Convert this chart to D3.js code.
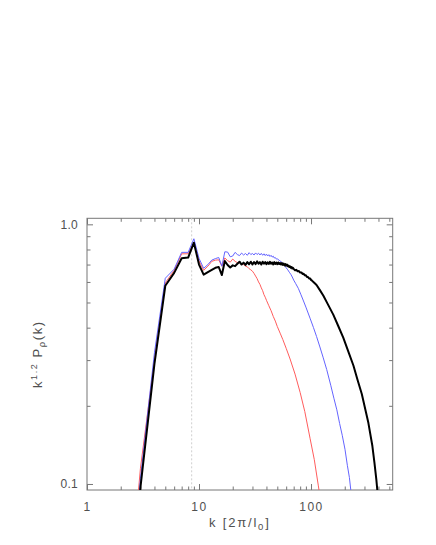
<!DOCTYPE html>
<html>
<head>
<meta charset="utf-8">
<script src="https://cdn.jsdelivr.net/npm/d3@7"></script>
<style>
  html, body { margin: 0; padding: 0; background: #fff; }
  svg { display: block; }
  text { font-family: "Liberation Sans", Arial, sans-serif; fill: #505050; }
</style>
</head>
<body>
<svg id="chart" width="436" height="545"></svg>
<script>
// ---------- data ----------
const xMajorTicks = [1, 10, 100];
const xMinorTicks = [2,3,4,5,6,7,8,9,20,30,40,50,60,70,80,90,200,300,400,500];
const yMajorTicks = [0.1, 1.0];
const yMajorLabels = ["0.1", "1.0"];
const yMinorTicks = [0.2,0.3,0.4,0.5,0.6,0.7,0.8,0.9];
const kMarker = 8.6;

// black (thick) series
const kBlack = [2,3,4,5,6,7,8,9,10,11,12,13,14,15,16,17,18,19,20,21,22,23,24,25,26,27,28,29,30,
  31,32,33,34,35,36,37,38,39,40,41,42,43,44,45,46,47,48,49,50,51,52,53,54,55,56,57,58,59,60,
  61,62,63,64,65,66,67,68,69,70,72,74,76,78,80,82,84,86,88,90,92,94,96,98,100,102,105,108,112,
  120,129,140,158,175,194,215,239,260,284,305,325,353,368,383,393,400];
const pBlack = [0.012,0.097,0.29,0.58,0.65,0.74,0.745,0.85,0.70,0.64,0.655,0.668,0.68,0.685,0.638,0.722,0.697,0.682,0.695,0.69,0.705,0.718,0.70,0.712,0.698,0.715,0.702,0.718,0.70,
  0.716,0.703,0.72,0.705,0.715,0.70,0.718,0.706,0.716,0.702,0.714,0.704,0.717,0.705,0.713,0.701,0.715,0.704,0.712,0.702,0.713,0.703,0.71,0.70,0.709,0.698,0.706,0.695,0.703,0.693,
  0.70,0.69,0.694,0.685,0.689,0.68,0.685,0.676,0.68,0.674,0.665,0.668,0.659,0.661,0.652,0.653,0.644,0.645,0.636,0.636,0.627,0.627,0.619,0.619,0.611,0.607,0.60,0.593,0.584,
  0.558,0.531,0.496,0.449,0.406,0.366,0.324,0.286,0.252,0.222,0.194,0.172,0.140,0.121,0.104,0.092,0.082];

// blue series
const kBlue = [2,3,4,5,6,7,8,9,10,11,12,13,14,15,16,17,18,19,20,21,22,23,24,25,26,27,28,29,30,
  31,32,33,34,35,36,37,38,39,40,41,42,43,44,45,46,47,48,49,50,52,54,56,58,60,62,64,66,68,70,
  73,77,81,85,90,98,105,112,120,128,138,150,160,170,180,190,201,211,220,227,235];
const pBlue = [0.013,0.105,0.32,0.62,0.672,0.78,0.78,0.88,0.74,0.677,0.70,0.728,0.738,0.745,0.69,0.784,0.782,0.75,0.755,0.78,0.765,0.758,0.775,0.762,0.772,0.76,0.778,0.765,0.772,
  0.762,0.776,0.765,0.774,0.762,0.773,0.76,0.77,0.758,0.768,0.755,0.764,0.752,0.76,0.748,0.754,0.742,0.745,0.735,0.736,0.727,0.718,0.709,0.694,0.68,0.668,0.654,0.642,0.627,0.61,
  0.591,0.567,0.538,0.511,0.48,0.435,0.401,0.37,0.337,0.308,0.276,0.24,0.214,0.193,0.171,0.154,0.136,0.118,0.106,0.094,0.083];

// red series
const kRed = [2,3,4,5,6,7,8,9,10,11,12,13,14,15,16,17,18,19,20,21,22,23,24,25,26,27,28,29,30,
  31,32,33,34,35,36,37,38,39,40,42,44,46,48,50,53,56,60,65,72,80,88,98,107,116,122];
const pRed = [0.016,0.115,0.30,0.595,0.665,0.77,0.77,0.85,0.722,0.665,0.69,0.72,0.728,0.73,0.69,0.742,0.725,0.715,0.735,0.72,0.712,0.71,0.70,0.70,0.69,0.686,0.675,0.668,0.66,
  0.647,0.632,0.618,0.60,0.587,0.569,0.555,0.536,0.524,0.51,0.486,0.465,0.442,0.424,0.404,0.381,0.36,0.333,0.303,0.265,0.225,0.19,0.15,0.124,0.099,0.086];

// ---------- layout ----------
const pLeft = 87, pRight = 392.7, pTop = 218.3, pBottom = 490;
const svg = d3.select("#chart");

const x = d3.scaleLog().domain([1, 536]).range([pLeft, pRight]);
const y = d3.scaleLog().domain([0.0948, 1.055]).range([pBottom, pTop]);

const axisColor = "#777";
const majorLen = 6, minorLen = 3.5;

function styleAxis(g, ls) {
  g.select(".domain").remove();
  g.selectAll(".tick line").attr("stroke", axisColor).attr("stroke-width", 1);
  g.selectAll(".tick text").attr("fill", "#505050")
    .style("font-family", '"Liberation Sans", Arial, sans-serif').style("font-size", "12px")
    .style("letter-spacing", (ls || 0) + "px");
}

// bottom
svg.append("g").attr("transform", `translate(0,${pBottom})`)
  .call(d3.axisBottom(x).tickValues(xMajorTicks).tickFormat(d3.format("d")).tickSize(-majorLen).tickPadding(12))
  .call(g => styleAxis(g, 1.5));
svg.append("g").attr("transform", `translate(0,${pBottom})`)
  .call(d3.axisBottom(x).tickValues(xMinorTicks).tickFormat("").tickSize(-minorLen))
  .call(styleAxis);
// top
svg.append("g").attr("transform", `translate(0,${pTop})`)
  .call(d3.axisTop(x).tickValues(xMajorTicks).tickFormat("").tickSize(-majorLen))
  .call(styleAxis);
svg.append("g").attr("transform", `translate(0,${pTop})`)
  .call(d3.axisTop(x).tickValues(xMinorTicks).tickFormat("").tickSize(-minorLen))
  .call(styleAxis);
// left
svg.append("g").attr("transform", `translate(${pLeft},0)`)
  .call(d3.axisLeft(y).tickValues(yMajorTicks).tickFormat((d, i) => yMajorLabels[i]).tickSize(-majorLen).tickPadding(9))
  .call(g => styleAxis(g, 0.3));
svg.append("g").attr("transform", `translate(${pLeft},0)`)
  .call(d3.axisLeft(y).tickValues(yMinorTicks).tickFormat("").tickSize(-minorLen))
  .call(styleAxis);
// right
svg.append("g").attr("transform", `translate(${pRight},0)`)
  .call(d3.axisRight(y).tickValues(yMajorTicks).tickFormat("").tickSize(-majorLen))
  .call(styleAxis);
svg.append("g").attr("transform", `translate(${pRight},0)`)
  .call(d3.axisRight(y).tickValues(yMinorTicks).tickFormat("").tickSize(-minorLen))
  .call(styleAxis);

// frame
svg.append("rect").attr("x", pLeft).attr("y", pTop)
  .attr("width", pRight - pLeft).attr("height", pBottom - pTop)
  .attr("fill", "none").attr("stroke", axisColor).attr("stroke-width", 1);

// clip
svg.append("clipPath").attr("id", "plotclip").append("rect")
  .attr("x", pLeft).attr("y", pTop).attr("width", pRight - pLeft).attr("height", pBottom - pTop);

// vertical dotted marker
svg.append("line")
  .attr("x1", x(kMarker)).attr("x2", x(kMarker)).attr("y1", pTop).attr("y2", pBottom)
  .attr("stroke", "#cfcfcf").attr("stroke-width", 1).attr("stroke-dasharray", "2,2");

const line = d3.line().x(d => x(d[0])).y(d => y(d[1]));
const plot = svg.append("g").attr("clip-path", "url(#plotclip)");

function draw(ks, ps, color, width) {
  plot.append("path").datum(ks.map((k, i) => [k, ps[i]]))
    .attr("d", line).attr("fill", "none")
    .attr("stroke", color).attr("stroke-width", width).attr("stroke-linejoin", "round");
}
draw(kRed, pRed, "#ff5c5c", 1);
draw(kBlue, pBlue, "#6464ff", 1);
draw(kBlack, pBlack, "#000", 2);

// x title
const xt = svg.append("text").attr("x", (pLeft + pRight) / 2).attr("y", 527)
  .attr("text-anchor", "middle").style("font-size", "13px").style("letter-spacing", "1.8px");
xt.append("tspan").text("k  [2π/l");
xt.append("tspan").attr("dy", 3).style("font-size", "9.5px").text("0");
xt.append("tspan").attr("dy", -3).text("]");

// y title
const yt = svg.append("text")
  .attr("transform", `translate(42,${(pTop + pBottom) / 2}) rotate(-90)`)
  .attr("text-anchor", "middle").style("font-size", "13px").style("letter-spacing", "1.6px");
yt.append("tspan").text("k");
yt.append("tspan").attr("dy", -5).style("font-size", "9px").text("1.2");
yt.append("tspan").attr("dy", 5).text(" P");
yt.append("tspan").attr("dy", 3).style("font-size", "9.5px").text("ρ");
yt.append("tspan").attr("dy", -3).text("(k)");
</script>
</body>
</html>
